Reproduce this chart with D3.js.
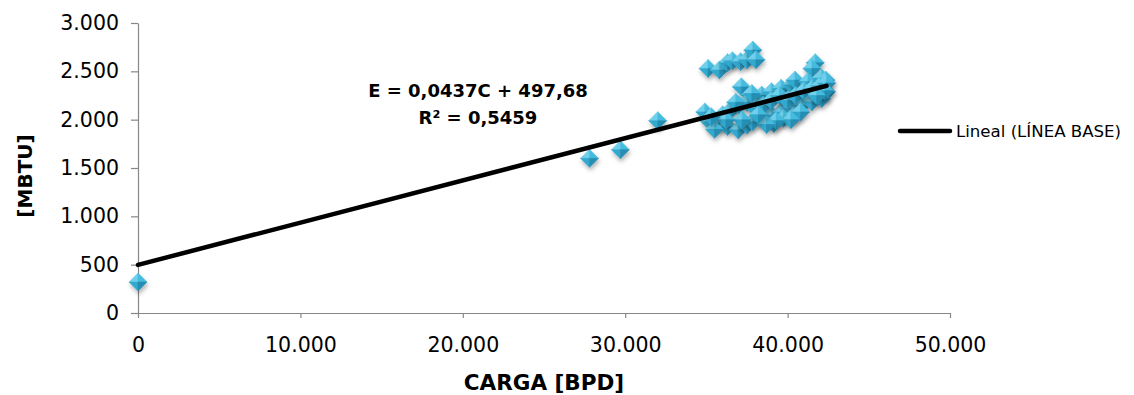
<!DOCTYPE html>
<html>
<head>
<meta charset="utf-8">
<script src="https://cdn.jsdelivr.net/npm/d3@7"></script>
<style>
  body { margin: 0; background: #fff; }
  svg { font-family: "DejaVu Sans", "Open Sans", sans-serif; }
</style>
</head>
<body>
<svg width="1134" height="395"></svg>
<script>
// CARGA [BPD] vs energia [MBTU]
const carga = [
  0, 27800, 29700, 32000,
  35100, 35800, 36300, 36600, 37100, 37500, 37850, 38050,
  37150, 41700, 41500,
  37700, 38400, 39000, 39600, 40250, 40450, 41250, 42100, 42400, 42350,
  38400, 39000, 39600, 40250, 40850, 41500, 42100,
  34900, 35200, 35800, 36300, 36950, 37500, 37850, 39150, 39750, 40400,
  36000, 36500, 37000, 37500, 38000, 38500, 39000, 39500, 40000, 40500,
  41000, 41500, 42000, 42400, 42300, 41800, 40800, 40200, 39300, 38700,
  38200, 37200, 36200, 35500, 35300, 36800, 37800
]
const energia = [
  320, 1600, 1690, 1990,
  2530, 2515, 2590, 2610, 2600, 2620, 2720, 2620,
  2340, 2590, 2530,
  2255, 2255, 2290, 2325, 2360, 2410, 2395, 2430, 2290, 2410,
  2015, 2050, 2080, 2120, 2150, 2185, 2220,
  2080, 1980, 1965, 1930, 1895, 1945, 1980, 1960, 2015, 2050,
  2050, 2100, 2150, 2180, 2120, 2150, 2200, 2250, 2200, 2250,
  2300, 2320, 2350, 2380, 2300, 2250, 2080, 2000, 1990, 1950,
  2050, 2000, 2000, 1900, 2030, 2180, 2270
]
const xTicks = [0, 10000, 20000, 30000, 40000, 50000]
const yTicks = [0, 500, 1000, 1500, 2000, 2500, 3000]
const pendiente = 0.0437
const intercepto = 497.68

const svg = d3.select('svg')
const margin = {left: 138, right: 184, top: 23, bottom: 82}
const width = 1134, height = 395

const x = d3.scaleLinear().domain([0, 50000]).range([margin.left, width - margin.right])
const y = d3.scaleLinear().domain([0, 3000]).range([height - margin.bottom, margin.top])

const fmt = d => d3.format(',')(d).replace(/,/g, '.')

// sombra de los marcadores
const defs = svg.append('defs')
const f = defs.append('filter').attr('id', 'sh').attr('x', '-50%').attr('y', '-50%').attr('width', '200%').attr('height', '200%')
f.append('feDropShadow').attr('dx', 1).attr('dy', 3).attr('stdDeviation', 2)
  .attr('flood-color', '#000').attr('flood-opacity', 0.3)

// ejes
const xAxis = g => g.attr('transform', `translate(0,${y(0)})`)
  .call(d3.axisBottom(x).tickValues(xTicks).tickFormat(fmt).tickSize(5).tickSizeOuter(0))
const yAxis = g => g.attr('transform', `translate(${x(0)},0)`)
  .call(d3.axisLeft(y).tickValues(yTicks).tickFormat(fmt).tickSize(7).tickSizeOuter(0))

const gx = svg.append('g').call(xAxis)
const gy = svg.append('g').call(yAxis)
;[gx, gy].forEach(g => {
  g.selectAll('path, line').attr('stroke', '#878787').attr('stroke-width', 1.2)
  g.selectAll('text').attr('fill', '#000').attr('font-size', 20.5).attr('font-family', '"DejaVu Sans", sans-serif')
})
gx.selectAll('text').attr('dy', '1.5em')
gy.selectAll('text').attr('dx', '-12').attr('x', -7)

// puntos (diamantes 3D)
const r = 9
const faces = [
  {pts: [[0, -1], [-1, 0], [0, 0]], fill: '#6fcfea'},
  {pts: [[0, -1], [1, 0], [0, 0]], fill: '#45bbde'},
  {pts: [[-1, 0], [0, 1], [0, 0]], fill: '#33a9cf'},
  {pts: [[1, 0], [0, 1], [0, 0]], fill: '#258db3'}
]
const pts = carga.map((c, i) => ({c, e: energia[i]}))
const mk = svg.append('g').selectAll('g').data(pts).join('g')
  .attr('transform', d => `translate(${x(d.c)},${y(d.e)})`)
  .attr('filter', 'url(#sh)')
mk.selectAll('path').data(faces).join('path')
  .attr('d', fc => 'M' + fc.pts.map(p => [p[0] * r, p[1] * r].join(',')).join('L') + 'Z')
  .attr('fill', fc => fc.fill)
  .attr('stroke', fc => fc.fill).attr('stroke-width', 0.5)

// linea de tendencia
const xMin = d3.min(carga), xMax = d3.max(carga)
svg.append('line')
  .attr('x1', x(xMin)).attr('y1', y(pendiente * xMin + intercepto))
  .attr('x2', x(xMax)).attr('y2', y(pendiente * xMax + intercepto))
  .attr('stroke', '#000').attr('stroke-width', 4.5).attr('stroke-linecap', 'round')

// ecuacion
const eq = svg.append('text').attr('text-anchor', 'middle').attr('font-weight', 'bold').attr('font-size', 18)
eq.append('tspan').attr('x', 478).attr('y', 97).text('E = 0,0437C + 497,68')
eq.append('tspan').attr('x', 478).attr('y', 124).text('R² = 0,5459')

// titulos
svg.append('text').attr('x', x(25000)).attr('y', 390).attr('text-anchor', 'middle')
  .attr('font-weight', 'bold').attr('font-size', 21.5).text('CARGA [BPD]')
svg.append('text').attr('transform', 'translate(32,176) rotate(-90)').attr('text-anchor', 'middle')
  .attr('font-weight', 'bold').attr('font-size', 20).text('[MBTU]')

// leyenda
svg.append('line').attr('x1', 900).attr('x2', 950).attr('y1', 131).attr('y2', 131)
  .attr('stroke', '#000').attr('stroke-width', 4.5).attr('stroke-linecap', 'round')
svg.append('text').attr('x', 956).attr('y', 137).attr('font-size', 16.6).text('Lineal (LÍNEA BASE)')
</script>
</body>
</html>
